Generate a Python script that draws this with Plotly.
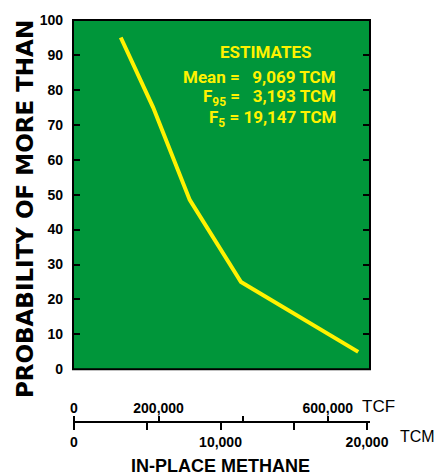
import plotly.graph_objects as go

# ---- data ----
in_place_tcm = [3193, 5400, 7900, 11400, 19400]
probability = [95, 75, 48.5, 25, 5]

y_ticks = [0, 10, 20, 30, 40, 50, 60, 70, 80, 90, 100]
tcm_ticks = [0, 5000, 10000, 15000, 20000]
tcm_tick_text = ["0", "", "10,000", "", "20,000"]
tcf_ticks = [0, 200000, 400000, 600000]
tcf_tick_text = ["0", "200,000", "", "600,000"]
tcm_per_tcf = 0.02887

estimate_lines = [
    "Mean =\u00a0\u00a0\u00a09,069 TCM",
    "F<sub>95</sub> =\u00a0\u00a0\u00a03,193 TCM",
    "F<sub>5</sub> = 19,147 TCM",
]

GREEN = "#00963A"
YELLOW = "#FFF200"
W, H = 435, 476
ML, MR, MT, MB = 73, 65, 18, 40
PW, PH = W - ML - MR, H - MT - MB
plot_bottom = 369
ydom0 = (H - MB - plot_bottom) / PH
axis_y = 422
axis_pos = (H - MB - axis_y) / PH


def px(x):
    return (x - ML) / PW


def py(y):
    return (H - MB - y) / PH


fig = go.Figure()
fig.add_trace(go.Scatter(x=in_place_tcm, y=probability, mode="lines",
                         line=dict(color=YELLOW, width=4), showlegend=False,
                         hoverinfo="skip"))
# invisible trace for the TCF axis
fig.add_trace(go.Scatter(x=[0], y=[0], xaxis="x2", mode="markers",
                         marker=dict(opacity=0), showlegend=False, hoverinfo="skip"))

xr = [-68, 20205]
tick_font = dict(family="Liberation Sans", size=14, color="black", weight="bold")

fig.update_layout(
    width=W, height=H,
    margin=dict(l=ML, r=MR, t=MT, b=MB),
    paper_bgcolor="white", plot_bgcolor="white",
    xaxis=dict(range=xr, anchor="free", position=axis_pos, showgrid=False,
               zeroline=False, showline=True, linecolor="black", linewidth=2,
               ticks="outside", ticklen=7, tickwidth=2, tickcolor="black",
               tickvals=tcm_ticks, ticktext=tcm_tick_text, tickfont=tick_font,
               ticklabelstandoff=0),
    xaxis2=dict(range=xr, overlaying="x", anchor="free", position=axis_pos,
                side="top", showgrid=False, zeroline=False, showline=False,
                ticks="outside", ticklen=6, tickwidth=2, tickcolor="black",
                tickvals=[t * tcm_per_tcf for t in tcf_ticks],
                ticktext=tcf_tick_text, tickfont=tick_font, ticklabelstandoff=-3),
    yaxis=dict(range=[0, 100], domain=[ydom0, 1], showgrid=False, zeroline=False,
               showline=False, ticks="inside", ticklen=7, tickwidth=2,
               tickcolor="black", mirror="ticks", tickvals=y_ticks,
               tickfont=dict(family="Liberation Sans", size=14, color="black",
                             weight="bold"),
               ticklabelstandoff=9),
)

fig.add_shape(type="rect", xref="x domain", yref="y domain", x0=0, x1=1, y0=0, y1=1,
              fillcolor=GREEN, line=dict(color="black", width=2), layer="below")

ann_font = dict(family="Roboto, Liberation Sans", size=17, color=YELLOW, weight="bold")
fig.add_annotation(x=px(266), y=py(50), xref="paper", yref="paper", text="ESTIMATES",
                   showarrow=False, font=ann_font, xanchor="center", yanchor="middle")
for i, t in enumerate(estimate_lines):
    fig.add_annotation(x=px(338), y=py(75 + 21 * i), xref="paper", yref="paper", text=t,
                       showarrow=False, font=ann_font, xanchor="right", yanchor="middle")

fig.add_annotation(x=px(25), y=py(208), xref="paper", yref="paper",
                   text="PROBABILITY OF MORE THAN", textangle=-90, showarrow=False,
                   font=dict(family="DejaVu Sans", size=23, color="black", weight="bold"),
                   xanchor="center", yanchor="middle")
fig.add_annotation(x=px(360), y=py(406), xref="paper", yref="paper", text="TCF",
                   showarrow=False, xanchor="left", yanchor="middle",
                   font=dict(family="Liberation Sans", size=17, color="black"))
fig.add_annotation(x=px(398), y=py(437), xref="paper", yref="paper", text="TCM",
                   showarrow=False, xanchor="left", yanchor="middle",
                   font=dict(family="Liberation Sans", size=16, color="black"))
fig.add_annotation(x=px(220), y=py(466), xref="paper", yref="paper",
                   text="IN-PLACE METHANE", showarrow=False, xanchor="center",
                   yanchor="middle",
                   font=dict(family="Liberation Sans", size=18, color="black",
                             weight="bold"))

fig.write_html("out.html",
               config=dict(displayModeBar=False, staticPlot=True),
               post_script="document.body.style.margin='0';"
                           "document.body.style.overflow='hidden';")
